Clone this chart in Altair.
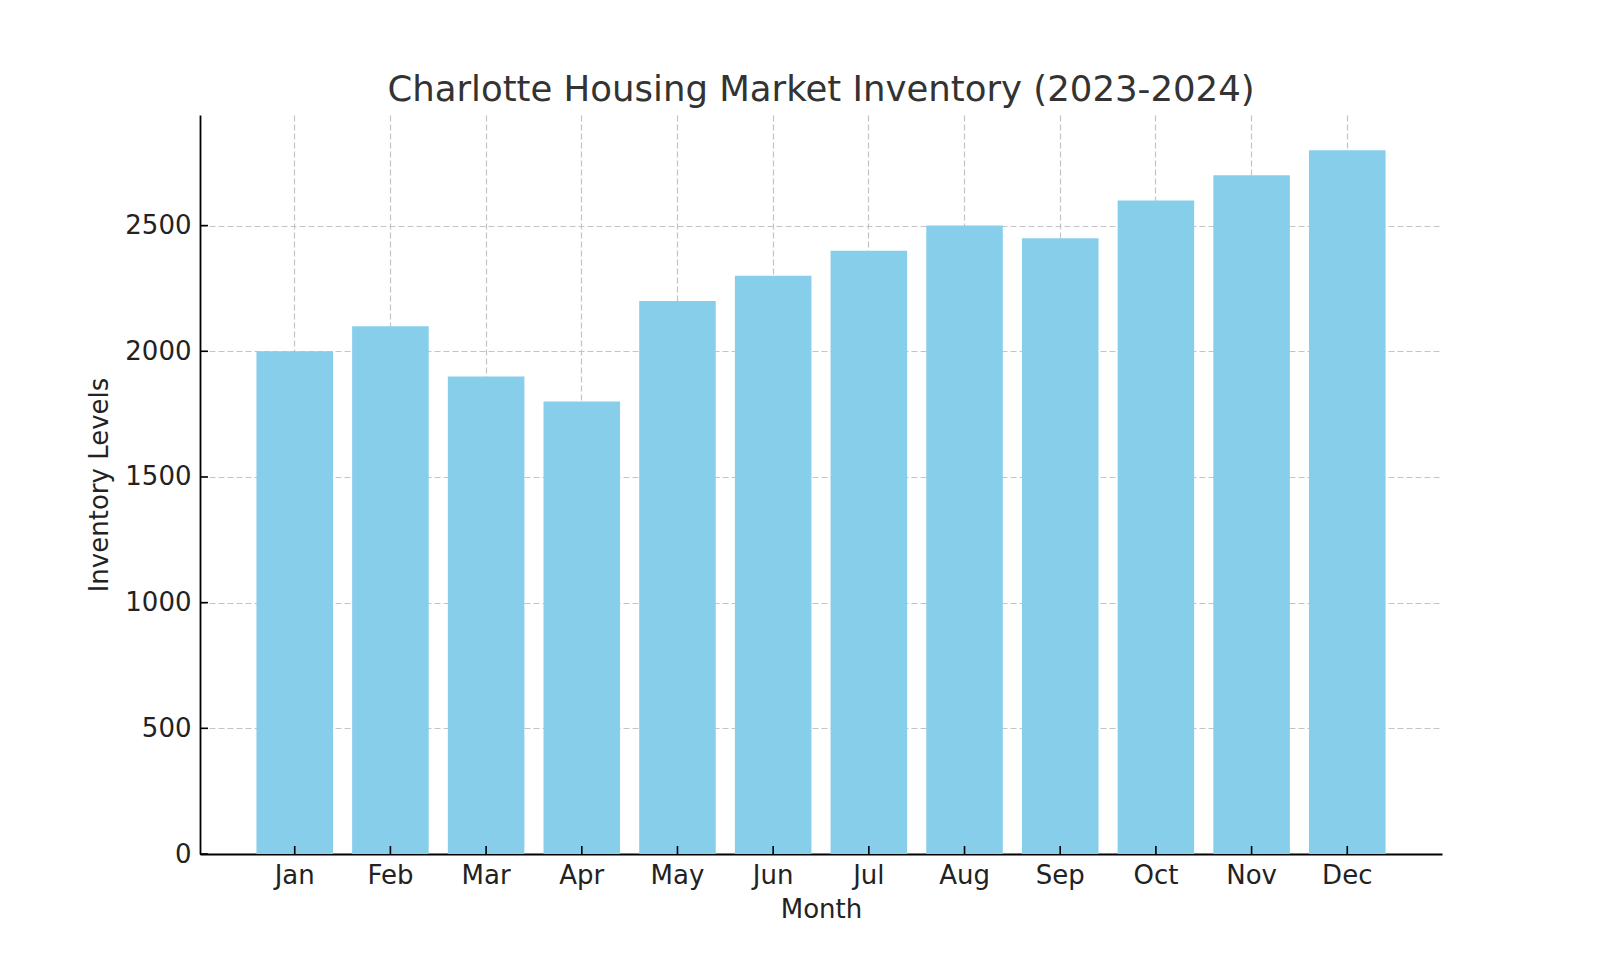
import altair as alt
import pandas as pd

months = ["Jan", "Feb", "Mar", "Apr", "May", "Jun", "Jul", "Aug", "Sep", "Oct", "Nov", "Dec"]
inventory = [2000, 2100, 1900, 1800, 2200, 2300, 2400, 2500, 2450, 2600, 2700, 2800]
y_ticks = [0, 500, 1000, 1500, 2000, 2500]

df = pd.DataFrame({"Month": months, "Inventory": inventory})
ticks_df = pd.DataFrame({"Inventory": y_ticks})

W, H = 1242, 739
FONT = "DejaVu Sans"

x_scale = alt.Scale(domain=months, paddingInner=0.2, paddingOuter=0.59)
y_scale = alt.Scale(domain=[0, 2940], nice=False, zero=True)

bars = alt.Chart(df).mark_bar(color="#87CEEB").encode(
    x=alt.X("Month:N", sort=months, scale=x_scale,
            axis=alt.Axis(title="Month", labelAngle=0, bandPosition=0.5,
                          ticks=False, tickSize=0, labelPadding=29,
                          labelBaseline="alphabetic",
                          titleBaseline="alphabetic", titleY=63)),
    y=alt.Y("Inventory:Q", scale=y_scale,
            axis=alt.Axis(title="Inventory Levels", values=y_ticks, format="d",
                          ticks=False, tickSize=0, labelPadding=9,
                          titleBaseline="alphabetic", titleX=-93,
                          titleY=H / 2, titleAngle=270)),
)

xticks = alt.Chart(df).mark_rule(color="#000000", strokeWidth=1.6).encode(
    x=alt.X("Month:N", sort=months, scale=x_scale),
    y=alt.value(H - 8),
    y2=alt.value(H),
)

yticks = alt.Chart(ticks_df).mark_rule(color="#000000", strokeWidth=1.6).encode(
    y=alt.Y("Inventory:Q", scale=y_scale),
    x=alt.value(0),
    x2=alt.value(8),
)

chart = alt.layer(bars, xticks, yticks).properties(
    width=W,
    height=H,
    title=alt.TitleParams(
        "Charlotte Housing Market Inventory (2023-2024)",
        fontSize=35.5, font=FONT, fontWeight="normal", color="#333333",
        anchor="middle", frame="group", baseline="alphabetic", offset=14, dy=35,
    ),
    autosize=alt.AutoSizeParams(type="none"),
    padding={"left": 192, "top": 107, "right": 150, "bottom": 98},
).configure_view(stroke=None).configure_axis(
    labelFont=FONT, titleFont=FONT, labelFontSize=26, titleFontSize=26,
    labelColor="#222222", titleColor="#222222", titleFontWeight="normal",
    domainColor="#000000", domainWidth=1.8,
    grid=True, gridColor="#c4c4c4", gridDash=[6, 3], gridWidth=1.2,
    zindex=1,
)

chart.save("out.html", embed_options={"renderer": "svg", "actions": False})
